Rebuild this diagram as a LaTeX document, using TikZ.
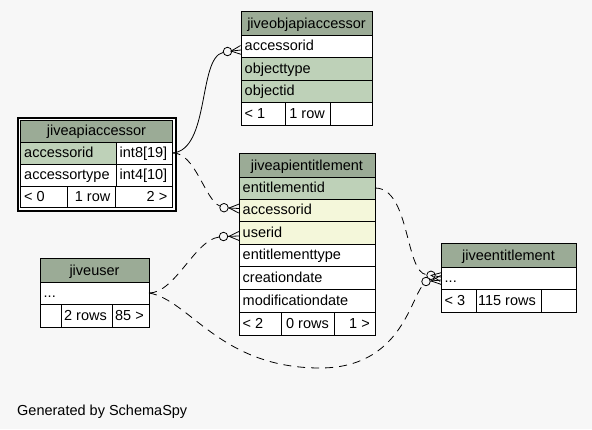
\documentclass[tikz,border=0pt]{standalone}
\usepackage{fontspec}
\setmainfont{Liberation Sans}
\usetikzlibrary{calc}
\definecolor{bgc}{HTML}{F7F7F7}
\definecolor{headc}{HTML}{9BAB96}
\definecolor{pkc}{HTML}{BED1B8}
\definecolor{idxc}{HTML}{F4F7DA}
\tikzset{
  cellbox/.style={draw=black, line width=1pt, anchor=north west, inner sep=0pt, outer sep=0pt},
  celltext/.style={inner sep=0pt, font=\fontsize{14.5}{17}\selectfont, text=black},
  ocirc/.style={circle, draw=black, line width=0.8pt, fill=bgc, minimum size=8.5pt, inner sep=0pt},
  conn/.style={line width=0.8pt, draw=black},
  dconn/.style={conn, dash pattern=on 8pt off 6pt},
  frame/.style={draw=black, line width=2pt, fill=white, anchor=north west, inner sep=0pt, outer sep=0pt},
}
\newcommand\mkcell[6]{\node[cellbox, fill=#6, minimum width={(#4-#2)*1pt}, minimum height={(#5-#3)*1pt}] (#1) at (#2,#3) {};}
\newcommand\cellL[7]{\mkcell{#1}{#2}{#3}{#4}{#5}{#6}\node[celltext, anchor=base west] (#1-t) at (#2+3.5,#5-6.5) {#7};}
\newcommand\cellC[7]{\mkcell{#1}{#2}{#3}{#4}{#5}{#6}\node[celltext, anchor=base] (#1-t) at ({(#2+#4)/2},#5-6.5) {#7};}
\newcommand\cellR[7]{\mkcell{#1}{#2}{#3}{#4}{#5}{#6}\node[celltext, anchor=base east] (#1-t) at (#4-5,#5-6.5) {#7};}
\newcommand\crow[2]{%
  \draw[conn] (#1) -- (#2);
  \draw[conn] ($(#2)!4.5pt!90:(#1)$) -- ($(#2)!10pt!(#1)$) -- ($(#2)!4.5pt!-90:(#1)$);
}
\begin{document}
\begin{tikzpicture}[x=1pt,y=-1pt]
\fill[bgc] (0,0) rectangle (592,429);
\useasboundingbox (0,0) rectangle (592,429);

% jiveobjapiaccessor
\cellC{oa-h}{241}{11}{372}{35}{headc}{jiveobjapiaccessor}
\cellL{oa-acc}{241}{35}{372}{57}{white}{accessorid}
\cellL{oa-type}{241}{57}{372}{80}{pkc}{objecttype}
\cellL{oa-id}{241}{80}{372}{102}{pkc}{objectid}
\cellL{oa-f1}{241}{102}{285}{125}{white}{< 1}
\cellR{oa-f2}{285}{102}{330}{125}{white}{1 row}
\cellL{oa-f3}{330}{102}{372}{125}{white}{}

% jiveapiaccessor
\node[frame, minimum width=158pt, minimum height=93pt] (aa-frame) at (17.5,117.5) {};
\cellC{aa-h}{20.5}{120.5}{172.5}{142}{headc}{jiveapiaccessor}
\cellL{aa-acc}{20.5}{142}{116}{164}{pkc}{accessorid}
\cellL{aa-acct}{116}{142}{172.5}{164}{white}{int8[19]}
\cellL{aa-at}{20.5}{164}{116}{186}{white}{accessortype}
\cellL{aa-att}{116}{164}{172.5}{186}{white}{int4[10]}
\cellL{aa-f1}{20.5}{186}{67}{207.5}{white}{< 0}
\cellR{aa-f2}{67}{186}{115.5}{207.5}{white}{1 row}
\cellR{aa-f3}{115.5}{186}{172.5}{207.5}{white}{2 >}

% jiveapientitlement
\cellC{ae-h}{239}{153}{375}{177}{headc}{jiveapientitlement}
\cellL{ae-eid}{239}{177}{375}{199}{pkc}{entitlementid}
\cellL{ae-acc}{239}{199}{375}{221}{idxc}{accessorid}
\cellL{ae-uid}{239}{221}{375}{244}{idxc}{userid}
\cellL{ae-type}{239}{244}{375}{266}{white}{entitlementtype}
\cellL{ae-cd}{239}{266}{375}{289}{white}{creationdate}
\cellL{ae-md}{239}{289}{375}{312}{white}{modificationdate}
\cellL{ae-f1}{239}{312}{281}{335}{white}{< 2}
\cellR{ae-f2}{281}{312}{334}{335}{white}{0 rows}
\cellR{ae-f3}{334}{312}{375}{335}{white}{1 >}

% jiveuser
\cellC{ju-h}{40}{258}{149}{282}{headc}{jiveuser}
\cellL{ju-row}{40}{282}{149}{304}{white}{...}
\cellL{ju-f1}{40}{304}{61}{327}{white}{}
\cellR{ju-f2}{61}{304}{112}{327}{white}{2 rows}
\cellR{ju-f3}{112}{304}{149}{327}{white}{85 >}

% jiveentitlement
\cellC{je-h}{441}{243}{576}{267}{headc}{jiveentitlement}
\cellL{je-row}{441}{267}{576}{289}{white}{...}
\cellL{je-f1}{441}{289}{476}{312}{white}{< 3}
\cellR{je-f2}{476}{289}{541}{312}{white}{115 rows}
\cellL{je-f3}{541}{289}{576}{312}{white}{}

% circles and tips
\node[ocirc] (c1) at (227.5,51.5) {};
\node[ocirc] (c2) at (224,207.7) {};
\node[ocirc] (c3) at (223.5,236.5) {};
\node[ocirc] (c4) at (431,275.3) {};
\node[ocirc] (c5) at (426,281.5) {};
\coordinate (t1) at ([yshift=-4pt]oa-acc.west);
\coordinate (t2) at ([yshift=1.5pt]ae-acc.west);
\coordinate (t3) at ([yshift=-3.5pt]ae-uid.west);
\coordinate (t4) at ([yshift=1pt]je-row.west);
\coordinate (t5) at ([yshift=-2pt]je-row.west);

% connectors
\draw[conn] (aa-acct.east) .. controls (210,150) and (198,58) .. (c1);
\draw[dconn] (aa-acct.east) .. controls (195,152) and (205,200) .. (c2);
\draw[dconn] (ju-row.east) .. controls (175,293) and (195,240) .. (c3);
\draw[dconn] (ae-eid.east) .. controls (410,188) and (405,272) .. (c4);
\draw[dconn] (ju-row.east) .. controls (190,300) and (220,368) .. (320,368) .. controls (400,368) and (410,300) .. (c5);
\crow{c1}{t1}
\crow{c2}{t2}
\crow{c3}{t3}
\crow{c4}{t4}
\crow{c5}{t5}

\node[celltext, anchor=base west] (gen) at (17,415) {Generated by SchemaSpy};
\end{tikzpicture}
\end{document}
